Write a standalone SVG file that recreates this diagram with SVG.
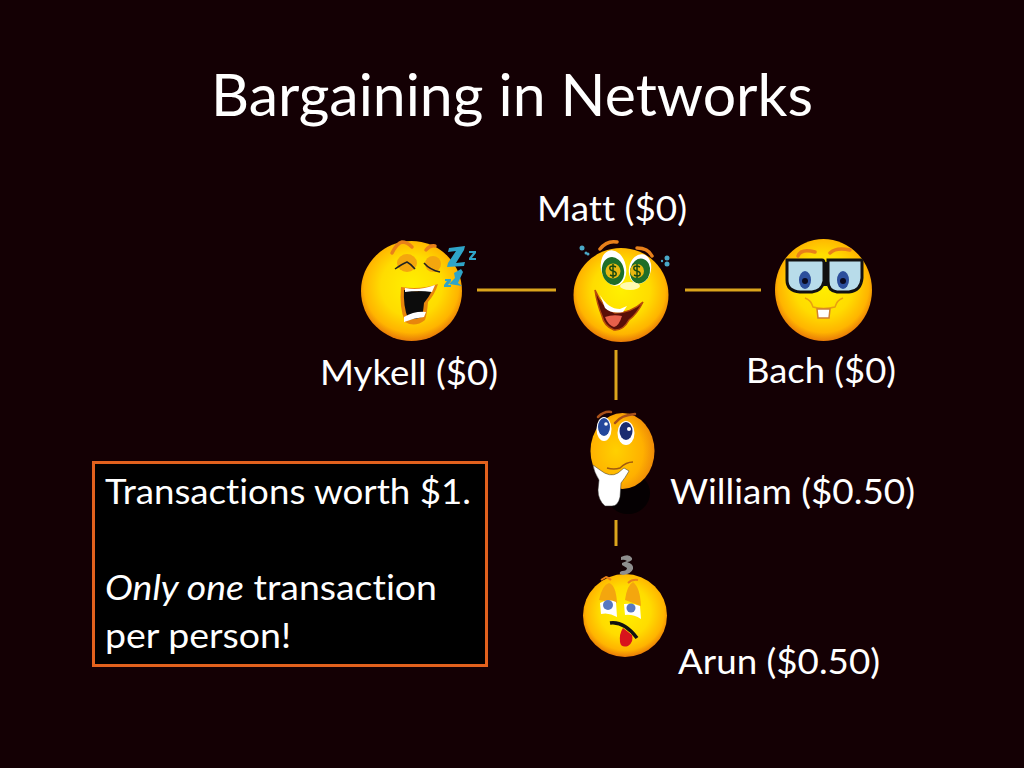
<svg xmlns="http://www.w3.org/2000/svg" width="1024" height="768" viewBox="0 0 1024 768">
<style>
text{font-family:"Lato","Liberation Sans",sans-serif;fill:#fff;font-variant-ligatures:none}
.lbl{font-size:35px}
.conn{stroke:#dba51c;stroke-width:3;fill:none}
.face{fill:url(#face)}
.brow{fill:none;stroke:#e8801a;stroke-width:3.500;stroke-linecap:round}
.lid{fill:#f4a60e}
</style>
<defs>
<radialGradient id="face" cx="0.5" cy="0.45" r="0.55">
<stop offset="0" stop-color="#fff000"/><stop offset="0.55" stop-color="#ffdc00"/><stop offset="0.85" stop-color="#ffb400"/><stop offset="1" stop-color="#e87a08"/>
</radialGradient>
<radialGradient id="face2" cx="0.4" cy="0.5" r="0.6">
<stop offset="0" stop-color="#ffd000"/><stop offset="0.7" stop-color="#ffb000"/><stop offset="1" stop-color="#ee8a08"/>
</radialGradient>
</defs>
<rect width="1024" height="768" fill="#140004"/>
<text id="title" x="211" y="116" style="font-size:58px" textLength="602" lengthAdjust="spacingAndGlyphs">Bargaining in Networks</text>
<g id="connectors" class="conn">
<line x1="477" y1="290" x2="556" y2="290"/>
<line x1="685" y1="290" x2="761" y2="290"/>
<line x1="616" y1="350" x2="616" y2="400"/>
<line x1="616" y1="520" x2="616" y2="546"/>
</g>
<g id="mykell">
<ellipse class="face" cx="411.500" cy="291" rx="50.500" ry="50"/>
<path class="brow" d="M392 253q5-10 10-11q5 0 10 5M426 250q4-5 9-4"/>
<ellipse class="lid" cx="407" cy="263" rx="10" ry="9"/>
<ellipse class="lid" cx="433" cy="264" rx="8" ry="8"/>
<path d="M395 269q7-5 12-7q4 2 8 7M424 263q6 7 16 9" fill="none" stroke="#222" stroke-width="1.500"/>
<path d="M401 287q20 3 37-3q-3 10-10 18q-1 12-3 18q-10 8-20 2q-6-15-4-35z" fill="#e8860c"/>
<path d="M404 290q16 3 29-1q-4 8-9 14q-1 10-2 14q-8 3-14 2q-5-14-4-29z" fill="#0c0c0c"/>
<path d="M405 288q14 3 30-3l-3 7q-14-2-27 0zM404 317q10-6 22-5l-2 5q-10 1-20 5z" fill="#fff"/>
<g fill="#2fa4c8"><path d="M449 248l16-2-1 4-8 13 9-1-1 4-17 1 1-4 8-12-8 1z"/><path d="M469 251h7v2l-4 5h4v2h-7v-2l4-5h-4z"/><path d="M461 269l2 3-5 11 4 3-13-2 6-6-1-5z"/><path d="M445 279h6v2l-3 4h3v2h-7v-2l3-4h-2z"/></g>
</g>
<g id="matt">
<ellipse class="face" cx="621" cy="295" rx="47.500" ry="47"/>
<path class="brow" d="M600 249q7-9 17-7M637 248q11 0 15 8"/>
<ellipse cx="613.500" cy="268" rx="12.500" ry="18" fill="#fff" transform="rotate(-12 613.500 268)"/>
<ellipse cx="640" cy="269" rx="11" ry="15" fill="#fff" transform="rotate(12 640 269)"/>
<ellipse cx="613" cy="271" rx="11" ry="14" fill="#1f6e28" transform="rotate(-12 613 271)"/>
<ellipse cx="640" cy="271" rx="10" ry="12.500" fill="#1f6e28" transform="rotate(12 640 271)"/>
<circle cx="613" cy="271" r="7.500" fill="#e8b810"/>
<circle cx="637" cy="271" r="7" fill="#e8b810"/>
<path d="M616 267q-4-2-6 0q-1 3 3 4q4 1 3 4q-2 2-6 0M613 264v14M640 267q-4-2-6 0q-1 3 3 4q4 1 3 4q-2 2-6 0M637 264v14" fill="none" stroke="#1a4a10" stroke-width="1.500"/>
<ellipse cx="630" cy="286" rx="10" ry="4" fill="#fffbb0"/>
<path d="M595 290q8 18 20 23q16 0 28-11q-6 12-14 18q-6 11-15 10q-10-4-12-14q-5-12-7-26z" fill="#5a0f08" stroke="#b84a0c" stroke-width="1.500"/>
<path d="M600 295q8 14 20 14l7-3-4 6q-12 2-18-4z" fill="#fff"/>
<path d="M605 317q8-3 17-1q-3 10-8 11q-6-2-9-10z" fill="#e8604a"/>
<g fill="#4aa8c8"><circle cx="582" cy="248" r="2.500"/><circle cx="586" cy="253" r="1.500"/><circle cx="588" cy="254" r="1.500"/><circle cx="667" cy="258" r="2.500"/><circle cx="667" cy="264" r="2.500"/><circle cx="662" cy="261" r="1.200"/></g>
</g>
<g id="bach">
<ellipse class="face" cx="823.500" cy="290" rx="48.500" ry="51"/>
<path class="brow" d="M798 256q3-8 17-4M830 253q6-6 20-3" stroke-width="2.500"/>
<rect x="821" y="262" width="6" height="24" fill="#111"/>
<path d="M787 260h35q2 0 2 3v18q-2 10-12 11h-12q-13-1-13-12z" fill="#b8dcea" stroke="#111" stroke-width="3"/>
<path d="M828 260h33q1 0 1 2v16q-1 13-13 14h-12q-9-1-9-11v-19q0-2 0-2z" fill="#b8dcea" stroke="#111" stroke-width="3"/>
<ellipse cx="805" cy="280" rx="6" ry="9" fill="#2c4f9c"/>
<circle cx="805" cy="281" r="3" fill="#0a0a20"/>
<ellipse cx="843" cy="280" rx="6" ry="9" fill="#2c4f9c"/>
<circle cx="843" cy="281" r="3" fill="#0a0a20"/>
<path d="M805 298q6 2 8 9q10 3 22 0q2-7 8-9" fill="none" stroke="#e8a010" stroke-width="1.500"/>
<path d="M817 309h13l-1 9h-11z" fill="#fff" stroke="#d08030" stroke-width="1.500"/>
</g>
<g id="william">
<ellipse cx="628" cy="493" rx="22" ry="21" fill="#050002"/>
<ellipse cx="622.500" cy="451" rx="32" ry="38" fill="url(#face2)"/>
<path d="M598 417q6-6 13-5M615 423q6-8 20-9" fill="none" stroke="#a8501a" stroke-width="2.500" stroke-linecap="round"/>
<ellipse cx="604" cy="429" rx="7.500" ry="12" fill="#fff"/>
<ellipse cx="626" cy="433" rx="8.500" ry="12" fill="#fff"/>
<ellipse cx="604" cy="427" rx="6" ry="9" fill="#24489c"/>
<ellipse cx="626" cy="431" rx="6.500" ry="9" fill="#1a2c70"/>
<circle cx="606" cy="424" r="1.800" fill="#fff"/><circle cx="629" cy="429" r="2" fill="#fff"/>
<path d="M607 468q7 2 13 0q6-6 13-6" fill="none" stroke="#a05a10" stroke-width="1.500"/>
<path d="M593 465l7 5q10 8 18 3l6-5 5 3q-4 7-8 12l-1 14q-2 9-8 9h-7q-7-6-7-16l1-10q-5-8-6-15z" fill="#fff" stroke="#333" stroke-width="0.500"/>
</g>
<g id="arun">
<ellipse class="face" cx="625" cy="615.500" rx="42" ry="41.500"/>
<path d="M621 557q8-4 11 1q1 3-5 4q7 2 6 7q-2 5-10 6l-3-1q-1-2 2-3q5 0 5-3l-5-3v-2l5-2q-3-2-6-1z" fill="#8e8e8e"/>
<path d="M601 580l5-3q3 1 5 3M628 583q4-4 10-3" fill="none" stroke="#e8801a" stroke-width="2"/>
<path d="M599 600q3-15 10-17q7 2 8 20z" class="lid"/>
<path d="M625 600q2-15 8-18q7 5 8 24z" class="lid"/>
<path d="M600 603q8-5 16-1l1 15q-8-5-16-3zM624 604q9-1 16 2l1 13q-8-5-16-4z" fill="#fff"/>
<circle cx="608" cy="605" r="5" fill="#5878c0"/>
<circle cx="631" cy="608" r="4.500" fill="#5878c0"/>
<path d="M610 623q14-2 27 15" fill="none" stroke="#111" stroke-width="3.500"/>
<path d="M623 628l9 7q2 7-4 11q-7 2-8-4q-1-8 3-14z" fill="#d8141c"/>
</g>
<text id="matt-label" class="lbl" x="537" y="221" textLength="150" lengthAdjust="spacingAndGlyphs">Matt ($0)</text>
<text id="mykell-label" class="lbl" x="320" y="385" textLength="178" lengthAdjust="spacingAndGlyphs">Mykell ($0)</text>
<text id="bach-label" class="lbl" x="746" y="383" textLength="150" lengthAdjust="spacingAndGlyphs">Bach ($0)</text>
<text id="william-label" class="lbl" x="670" y="504" textLength="245" lengthAdjust="spacingAndGlyphs">William ($0.50)</text>
<text id="arun-label" class="lbl" x="678" y="674" textLength="202" lengthAdjust="spacingAndGlyphs">Arun ($0.50)</text>
<g id="note">
<rect x="93.500" y="462.500" width="393" height="203" fill="#000" stroke="#e2611d" stroke-width="3"/>
<text class="lbl" x="105" y="504" textLength="366" lengthAdjust="spacingAndGlyphs">Transactions worth $1.</text>
<text class="lbl" x="105" y="600" textLength="332" lengthAdjust="spacingAndGlyphs"><tspan font-style="italic">Only one</tspan> transaction</text>
<text class="lbl" x="105" y="648" textLength="186" lengthAdjust="spacingAndGlyphs">per person!</text>
</g>
</svg>
